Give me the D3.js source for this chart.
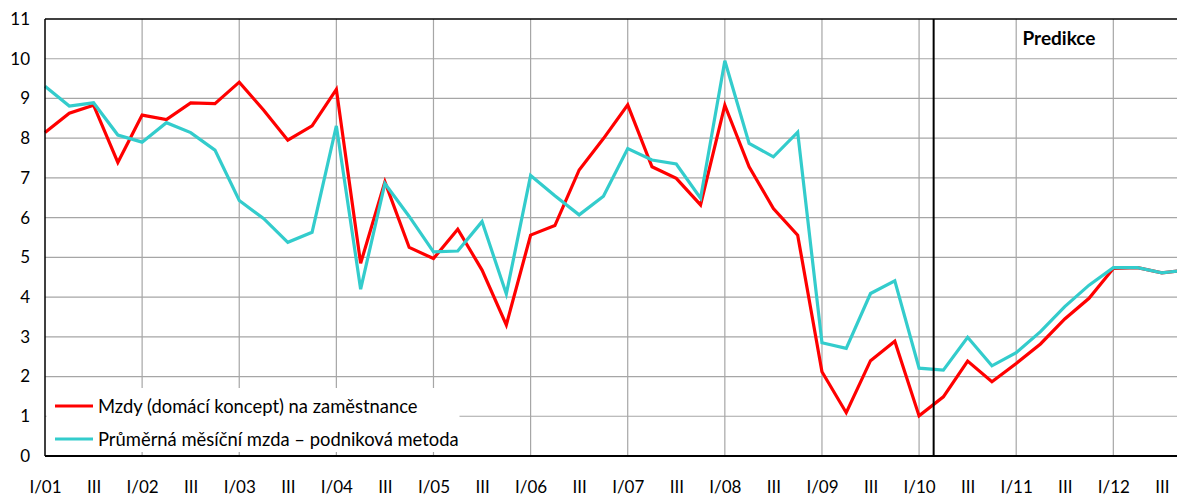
<!DOCTYPE html>
<html>
<head>
<meta charset="utf-8">
<style>
  body { margin: 0; background: #fff; }
  svg text { font-family: Lato, "Open Sans", sans-serif; fill: #000; }
</style>
</head>
<body>
<svg id="chart" width="1177" height="496"></svg>
<script src="https://cdnjs.cloudflare.com/ajax/libs/d3/7.8.5/d3.min.js"></script>
<script>
// quarters I/01 .. IV/12
var years = ["01","02","03","04","05","06","07","08","09","10","11","12"];
var romans = ["I","II","III","IV"];
var quarters = [];
years.forEach(function(y){ romans.forEach(function(r){ quarters.push(r + "/" + y); }); });

var mzdyNarodni = [8.14, 8.63, 8.83, 7.39, 8.58, 8.47, 8.89, 8.87,
                   9.41, 8.71, 7.95, 8.31, 9.23, 4.85, 6.90, 5.25,
                   4.97, 5.71, 4.68, 3.30, 5.56, 5.80, 7.20, 7.99,
                   8.84, 7.28, 6.99, 6.32, 8.83, 7.28, 6.23, 5.56,
                   2.12, 1.09, 2.40, 2.89, 1.01, 1.49, 2.39, 1.87,
                   2.33, 2.82, 3.45, 3.97, 4.72, 4.74, 4.61, 4.68];
var mzdaPodnik = [9.31, 8.81, 8.89, 8.08, 7.90, 8.39, 8.14, 7.70,
                  6.43, 5.98, 5.38, 5.63, 8.31, 4.20, 6.86, 6.03,
                  5.14, 5.16, 5.90, 4.08, 7.06, 6.55, 6.07, 6.54,
                  7.74, 7.45, 7.35, 6.49, 9.95, 7.87, 7.53, 8.15,
                  2.85, 2.71, 4.09, 4.41, 2.21, 2.16, 2.99, 2.27,
                  2.60, 3.13, 3.76, 4.30, 4.74, 4.74, 4.61, 4.68];
var yTicks = [0,1,2,3,4,5,6,7,8,9,10,11];
var predikceStart = 36.6; // position of the forecast divider (in quarters)

var seriesList = [
  { name: "Mzdy (domácí koncept) na zaměstnance", values: mzdyNarodni, color: "#ff0000" },
  { name: "Průměrná měsíční mzda – podniková metoda", values: mzdaPodnik, color: "#33cccc" }
];

var svg = d3.select("#chart");
var plotLeft = 45, plotTop = 19, plotBottom = 456, qStep = 24.28;

var x = d3.scaleLinear().domain([0, quarters.length - 1])
    .range([plotLeft, plotLeft + (quarters.length - 1) * qStep]);
var y = d3.scaleLinear().domain([0, 11]).range([plotBottom, plotTop]);

// grid
var grid = svg.append("g").attr("stroke", "#a6a6a6").attr("stroke-width", 1.2);
grid.selectAll(".h").data(yTicks.filter(function(d){ return d > 0 && d < 11; }))
  .enter().append("line")
  .attr("x1", plotLeft).attr("x2", 1177)
  .attr("y1", function(d){ return y(d); }).attr("y2", function(d){ return y(d); });
grid.selectAll(".v").data(d3.range(4, quarters.length, 4))
  .enter().append("line")
  .attr("x1", function(d){ return x(d); }).attr("x2", function(d){ return x(d); })
  .attr("y1", plotTop).attr("y2", plotBottom);

// lines
var line = d3.line()
  .x(function(d, i){ return x(i); })
  .y(function(d){ return y(d); });

svg.selectAll(".series").data(seriesList).enter().append("path")
  .attr("d", function(s){ return line(s.values); })
  .attr("fill", "none")
  .attr("stroke", function(s){ return s.color; })
  .attr("stroke-width", 3.2)
  .attr("stroke-linejoin", "miter");

// frame
svg.append("line").attr("x1", plotLeft).attr("x2", 1177).attr("y1", plotTop).attr("y2", plotTop)
  .attr("stroke", "#000").attr("stroke-width", 1.5);
svg.append("line").attr("x1", plotLeft).attr("x2", 1177).attr("y1", plotBottom).attr("y2", plotBottom)
  .attr("stroke", "#000").attr("stroke-width", 2);
svg.append("line").attr("x1", plotLeft).attr("x2", plotLeft).attr("y1", plotTop).attr("y2", plotBottom)
  .attr("stroke", "#000").attr("stroke-width", 1.5);

// forecast divider
svg.append("line")
  .attr("x1", x(predikceStart)).attr("x2", x(predikceStart))
  .attr("y1", plotTop).attr("y2", plotBottom)
  .attr("stroke", "#000").attr("stroke-width", 2);
svg.append("text").attr("x", 1059).attr("y", 45)
  .attr("text-anchor", "middle").attr("font-size", 19).attr("font-weight", "bold")
  .text("Predikce");

// axes
var yAxis = svg.append("g").attr("transform", "translate(" + plotLeft + ",0)")
  .call(d3.axisLeft(y).tickValues(yTicks).tickSize(0).tickPadding(15).tickFormat(d3.format("d")));
yAxis.select(".domain").remove();
yAxis.selectAll("text").attr("font-size", 17).attr("font-family", "Lato, sans-serif");

var xAxis = svg.append("g").attr("transform", "translate(0," + plotBottom + ")")
  .call(d3.axisBottom(x).tickValues(d3.range(0, quarters.length, 2)).tickSize(0).tickPadding(25)
    .tickFormat(function(i){ return i % 4 === 0 ? quarters[i] : "III"; }));
xAxis.select(".domain").remove();
xAxis.selectAll("text").attr("font-size", 17).attr("font-family", "Lato, sans-serif");

// legend
var legend = svg.append("g");
legend.append("rect").attr("x", plotLeft + 1.5).attr("y", 388).attr("width", 413).attr("height", 64)
  .attr("fill", "#fff");
var items = legend.selectAll(".item").data(seriesList).enter().append("g")
  .attr("transform", function(d, i){ return "translate(55," + (406 + i * 33) + ")"; });
items.append("line").attr("x1", 0).attr("x2", 38)
  .attr("stroke", function(d){ return d.color; }).attr("stroke-width", 3.2);
items.append("text").attr("x", 43).attr("y", 6.5).attr("font-size", 18.4)
  .text(function(d){ return d.name; });
</script>
</body>
</html>
